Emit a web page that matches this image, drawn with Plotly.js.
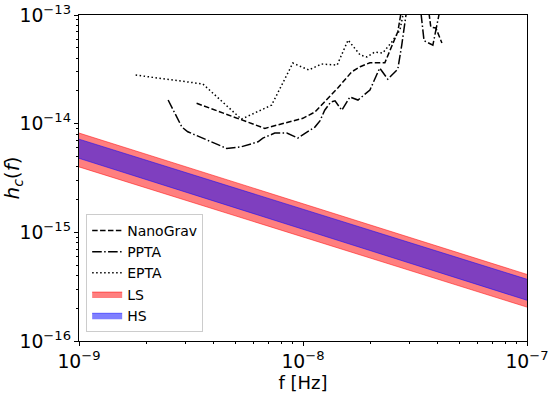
<!DOCTYPE html>
<html>
<head>
<meta charset="utf-8">
<script src="https://cdn.plot.ly/plotly-3.0.1.min.js"></script>
<style>
  body { margin: 0; background: #fff; }
  #chart { width: 549px; height: 395px; }
</style>
</head>
<body>
<div id="chart"></div>
<script>
// band end points (f in Hz)
var bandF = [1e-9, 1e-7];
var lsUpper = [8.2e-15, 4.1e-16];
var lsLower = [4.0e-15, 2.05e-16];
var hsUpper = [7.2e-15, 3.7e-16];
var hsLower = [4.8e-15, 2.37e-16];

// NanoGrav sensitivity curve
var nanoF = [3.35e-9, 6.75e-9, 9.98e-9, 1.13e-8, 1.43e-8, 1.65e-8, 1.8e-8, 1.99e-8, 2.32e-8, 2.52e-8, 2.65e-8, 2.76e-8,
             3.61e-8, 3.72e-8, 3.92e-8, 4.17e-8];
var nanoH = [1.54e-14, 9.05e-15, 1.12e-14, 1.28e-14, 2.13e-14, 3.0e-14, 3.34e-14, 3.64e-14, 3.64e-14, 5.49e-14, 7.02e-14, 1.15e-13,
             1.25e-13, 7.75e-14, 7.59e-14, 5.52e-14];

// PPTA
var pptaF = [2.5e-9, 2.88e-9, 3.06e-9, 4.56e-9, 5.31e-9, 6.3e-9, 6.62e-9, 7.48e-9, 8.47e-9, 9.48e-9, 1.13e-8, 1.19e-8,
             1.25e-8, 1.33e-8, 1.39e-8, 1.49e-8, 1.62e-8, 1.76e-8, 1.99e-8, 2.2e-8, 2.39e-8, 2.65e-8, 2.76e-8, 2.91e-8,
             3.33e-8, 3.47e-8, 3.8e-8, 4.1e-8];
var pptaH = [1.65e-14, 9.3e-15, 8.42e-15, 5.92e-15, 6.13e-15, 6.81e-15, 7.37e-15, 8.19e-15, 8.19e-15, 7.37e-15, 9.3e-15, 1.06e-14,
             1.33e-14, 1.58e-14, 1.62e-14, 1.33e-14, 1.76e-14, 1.65e-14, 2.04e-14, 3.25e-14, 2.57e-14, 3.18e-14, 5.29e-14, 1.15e-13,
             1.25e-13, 5.8e-14, 5.29e-14, 1.15e-13];

// EPTA
var eptaF = [1.79e-9, 3.57e-9, 5.31e-9, 7.24e-9, 9.01e-9, 1.06e-8, 1.21e-8, 1.42e-8, 1.59e-8, 1.8e-8, 1.93e-8, 2.09e-8,
             2.27e-8, 2.49e-8, 2.71e-8, 2.85e-8];
var eptaH = [2.8e-14, 2.32e-14, 1.1e-14, 1.48e-14, 3.61e-14, 3.12e-14, 3.54e-14, 3.46e-14, 5.88e-14, 4.28e-14, 4.11e-14, 4.56e-14,
             4.47e-14, 5.64e-14, 7.27e-14, 1.24e-13];

var font = 'DejaVu Sans, sans-serif';

var traces = [
  {x: bandF, y: lsLower, mode: 'lines', line: {color: 'rgba(255,0,0,0.5)', width: 1},
   showlegend: false, hoverinfo: 'skip', legendgroup: 'ls'},
  {x: bandF, y: lsUpper, mode: 'lines', fill: 'tonexty', fillcolor: 'rgba(255,0,0,0.5)',
   line: {color: 'rgba(255,0,0,0.5)', width: 1}, name: 'LS', legendrank: 4, legendgroup: 'ls'},
  {x: bandF, y: hsLower, mode: 'lines', line: {color: 'rgba(0,0,255,0.5)', width: 1},
   showlegend: false, hoverinfo: 'skip', legendgroup: 'hs'},
  {x: bandF, y: hsUpper, mode: 'lines', fill: 'tonexty', fillcolor: 'rgba(0,0,255,0.5)',
   line: {color: 'rgba(0,0,255,0.5)', width: 1}, name: 'HS', legendrank: 5, legendgroup: 'hs'},
  {x: nanoF, y: nanoH, mode: 'lines', name: 'NanoGrav', legendrank: 1, legendgroup: 'nano',
   line: {color: 'black', width: 1.5, dash: '5.5px,2.4px'}},
  {x: pptaF, y: pptaH, mode: 'lines', name: 'PPTA', legendrank: 2, legendgroup: 'ppta',
   line: {color: 'black', width: 1.5, dash: '9.6px,2.4px,1.5px,2.4px'}},
  {x: eptaF, y: eptaH, mode: 'lines', name: 'EPTA', legendrank: 3, legendgroup: 'epta',
   line: {color: 'black', width: 1.5, dash: '1.5px,2.5px'}}
];

var axisCommon = {
  type: 'log',
  dtick: 1,
  exponentformat: 'power',
  showgrid: false,
  zeroline: false,
  showline: true,
  mirror: true,
  linecolor: 'black',
  linewidth: 1,
  ticks: 'outside',
  ticklen: 4,
  tickcolor: 'black',
  tickfont: {family: font, size: 15, color: 'black'},
  minor: {ticks: 'outside', ticklen: 2, tickcolor: 'black', dtick: 'D1', showgrid: false}
};

var layout = {
  width: 549,
  height: 395,
  margin: {l: 79, r: 22, t: 15, b: 54},
  paper_bgcolor: 'white',
  plot_bgcolor: 'white',
  font: {family: font, color: 'black'},
  xaxis: Object.assign({}, axisCommon, {
    range: [-9, -7],
    title: {text: 'f [Hz]', font: {family: font, size: 18, color: 'black'}, standoff: 4}
  }),
  yaxis: Object.assign({}, axisCommon, {
    range: [-16, -13],
    title: {text: '<i>h</i><sub><i>c</i></sub>(<i>f</i>)', font: {family: font, size: 20, color: 'black'}, standoff: 4}
  }),
  legend: {
    x: 0.016, y: 0.028, xanchor: 'left', yanchor: 'bottom',
    traceorder: 'grouped',
    bgcolor: 'rgba(255,255,255,0.8)',
    bordercolor: '#cccccc', borderwidth: 1,
    font: {family: font, size: 14, color: 'black'},
    itemwidth: 30,
    tracegroupgap: 0
  },
  showlegend: true
};

Plotly.newPlot('chart', traces, layout, {staticPlot: true});
</script>
</body>
</html>
